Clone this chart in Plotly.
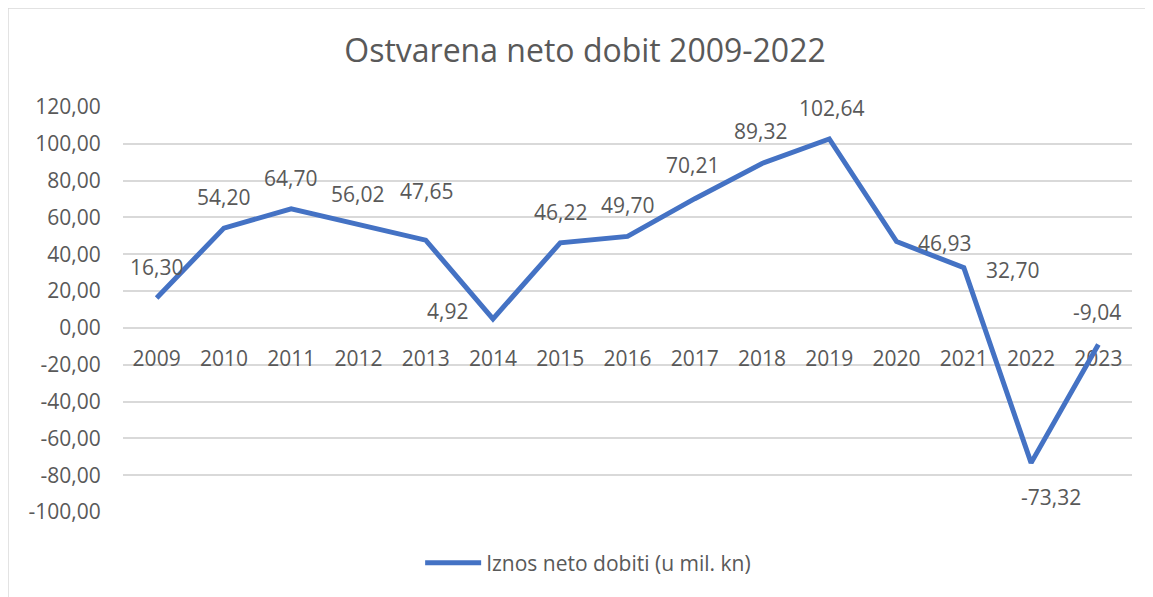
import plotly.graph_objects as go

years = [2009, 2010, 2011, 2012, 2013, 2014, 2015, 2016,
         2017, 2018, 2019, 2020, 2021, 2022, 2023]
profit = [16.30, 54.20, 64.70, 56.02, 47.65, 4.92, 46.22, 49.70,
          70.21, 89.32, 102.64, 46.93, 32.70, -73.32, -9.04]
y_ticks = [-100, -80, -60, -40, -20, 0, 20, 40, 60, 80, 100, 120]
series_name = "Iznos neto dobiti (u mil. kn)"
chart_title = "Ostvarena neto dobit 2009-2022"

y_min, y_max = -100, 120

# label offsets (px) like the excel data label positions
label_shift = [(0, 31), (0, 31), (-1, 31), (-1, 31), (1, 49), (-45, 8), (0, 31), (0, 31),
               (-2, 34), (-2, 32), (2, 31), (48, -1), (49, -2), (20, -34), (-1, 33)]

FONT = "Open Sans"
GREY = "#595959"
GRID = "#D9D9D9"
BLUE = "#4472C4"

# the page body has an 8px margin, so the figure is sized to fit the window
PAGE_OFF = 8
W, H = 1153 - PAGE_OFF, 597 - PAGE_OFF


def fmt(v):
    return f"{v:.2f}".replace(".", ",")


fig = go.Figure()
fig.add_trace(go.Scatter(
    x=years, y=profit, mode="lines", name=series_name,
    line=dict(color=BLUE, width=5),
    hoverinfo="skip",
))

for yr, v, (dx, dy) in zip(years, profit, label_shift):
    fig.add_annotation(x=yr, y=v, text=fmt(v), showarrow=False,
                       xshift=dx, yshift=dy,
                       font=dict(family=FONT, size=21, color=GREY))

# chart area border (excel-style, cropped on right / bottom)
fig.add_shape(type="rect", xref="paper", yref="paper",
              x0=-0.114, x1=1.1, y0=-0.4, y1=1.2444,
              line=dict(color=GRID, width=1.5), fillcolor="rgba(0,0,0,0)",
              layer="below")

zero_pos = (0 - y_min) / (y_max - y_min)

fig.update_layout(
    width=W, height=H,
    paper_bgcolor="white", plot_bgcolor="white",
    margin=dict(l=123 - PAGE_OFF, r=21, t=107 - PAGE_OFF, b=85),
    font=dict(family=FONT, size=21, color=GREY),
    title=dict(text=chart_title, x=(585 - PAGE_OFF) / W, xref="container", xanchor="center",
               y=1 - (51 - PAGE_OFF) / H, yref="container", yanchor="middle",
               font=dict(family=FONT, size=32, color=GREY)),
    showlegend=True,
    legend=dict(orientation="h", x=0.461, xanchor="center", y=-0.126, yanchor="middle",
                itemwidth=56,
                font=dict(family=FONT, size=21, color=GREY), bgcolor="rgba(0,0,0,0)"),
    xaxis=dict(range=[years[0] - 0.5, years[-1] + 0.5], tickvals=years,
               ticktext=[str(y) for y in years],
               showgrid=False, zeroline=False, showline=False,
               anchor="free", position=zero_pos, layer="below traces",
               ticks="outside", ticklen=12, tickcolor="rgba(0,0,0,0)",
               tickfont=dict(family=FONT, size=21, color=GREY),
               automargin=False, fixedrange=True),
    yaxis=dict(range=[y_min, y_max], tickvals=y_ticks,
               ticktext=[fmt(v) for v in y_ticks],
               showgrid=True, gridcolor=GRID, gridwidth=1.5,
               zeroline=False, showline=False,
               ticks="outside", ticklen=17, tickcolor="rgba(0,0,0,0)",
               tickfont=dict(family=FONT, size=21, color=GREY),
               automargin=False, fixedrange=True),
)

fig.write_html("out.html")
